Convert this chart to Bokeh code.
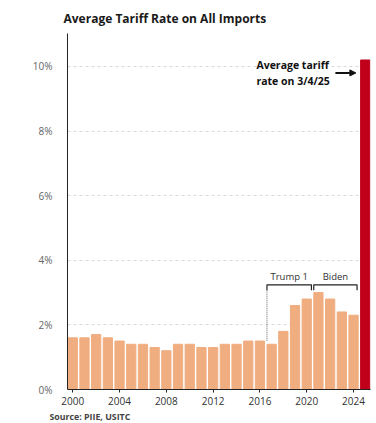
from bokeh.plotting import figure
from bokeh.models import Range1d, FixedTicker, Title, Label, Arrow, NormalHead
from bokeh.embed import file_html
from bokeh.resources import INLINE

years = list(range(2000, 2025))
rates = [1.6, 1.6, 1.7, 1.6, 1.5, 1.4, 1.4, 1.3, 1.2, 1.4, 1.4, 1.3, 1.3, 1.4, 1.4,
         1.5, 1.5, 1.4, 1.8, 2.6, 2.8, 3.0, 2.8, 2.4, 2.3]
latest_year = [2025]
latest_rate = [10.2]
x_ticks = [2000, 2004, 2008, 2012, 2016, 2020, 2024]
y_ticks = [0, 2, 4, 6, 8, 10]
y_labels = {t: f"{t}%" for t in y_ticks}

FONT = "Open Sans"

p = figure(width=376, height=423, output_backend="svg", toolbar_location=None,
           x_range=Range1d(1999.55, 2025.45), y_range=Range1d(0, 11.02),
           min_border_left=67, min_border_right=6, min_border_top=33, min_border_bottom=10)

p.title.text = "Average Tariff Rate on All Imports"
p.title.text_font = FONT
p.title.text_font_size = "12px"
p.title.text_font_style = "bold"
p.title.text_color = "#1a1a1a"
p.title.align = "left"
p.title.offset = -4
p.title.standoff = 13

p.vbar(x=years, top=rates, width=0.79, color="#F0AD80")
p.vbar(x=latest_year, top=latest_rate, width=0.79, color="#C0001A")

# axes
p.xaxis.ticker = FixedTicker(ticks=x_ticks)
p.xaxis.axis_line_color = "#222222"
p.xaxis.major_tick_line_color = "#222222"
p.xaxis.major_tick_out = 3
p.xaxis.major_tick_in = 0
p.xaxis.minor_tick_line_color = None
p.xaxis.major_label_text_font = FONT
p.xaxis.major_label_text_font_size = "10px"
p.xaxis.major_label_text_color = "#333333"
p.xaxis.major_label_standoff = 4

p.yaxis.ticker = FixedTicker(ticks=y_ticks)
p.yaxis.major_label_overrides = y_labels
p.yaxis.axis_line_color = "#222222"
p.yaxis.major_tick_line_color = None
p.yaxis.minor_tick_line_color = None
p.yaxis.major_label_text_font = FONT
p.yaxis.major_label_text_font_size = "10px"
p.yaxis.major_label_text_color = "#666666"
p.yaxis.major_label_standoff = 9

p.xgrid.grid_line_color = None
p.ygrid.ticker = FixedTicker(ticks=y_ticks[1:])
p.ygrid.grid_line_color = "#d9d9d9"
p.ygrid.grid_line_dash = "3 3"
p.outline_line_color = None

# brackets
bl, bh = 3.07, 3.24
p.line(x=[2016.6, 2016.6, 2020.4, 2020.4], y=[bl, bh, bh, bl], line_color="#222222", line_width=1.2)
p.line(x=[2020.6, 2020.6, 2024.3, 2024.3], y=[bl, bh, bh, bl], line_color="#222222", line_width=1.2)
p.line(x=[2016.6, 2016.6], y=[bl, 1.5], line_color="#666666", line_width=1, line_dash="1 1")

p.add_layout(Label(x=2018.5, y=3.3, text="Trump 1", text_align="center", text_baseline="bottom",
                   text_font=FONT, text_font_size="9.5px", text_color="#333333"))
p.add_layout(Label(x=2022.45, y=3.3, text="Biden", text_align="center", text_baseline="bottom",
                   text_font=FONT, text_font_size="9.5px", text_color="#333333"))

p.add_layout(Label(x=2015.7, y=9.8, text="Average tariff\nrate on 3/4/25", text_align="left",
                   text_baseline="middle", text_font=FONT, text_font_size="10.5px",
                   text_font_style="bold", text_color="#111111", text_line_height=1.1))
p.add_layout(Arrow(x_start=2022.45, y_start=9.8, x_end=2024.2, y_end=9.8, line_width=2,
                   line_color="#111111",
                   end=NormalHead(size=6, fill_color="#111111", line_color="#111111")))

src = Title(text="Source: PIIE, USITC", align="left", text_font=FONT, text_font_size="8.8px",
            text_font_style="bold", text_color="#444444", offset=-18, standoff=2)
p.add_layout(src, "below")

open("out.html", "w").write(file_html(p, INLINE))
